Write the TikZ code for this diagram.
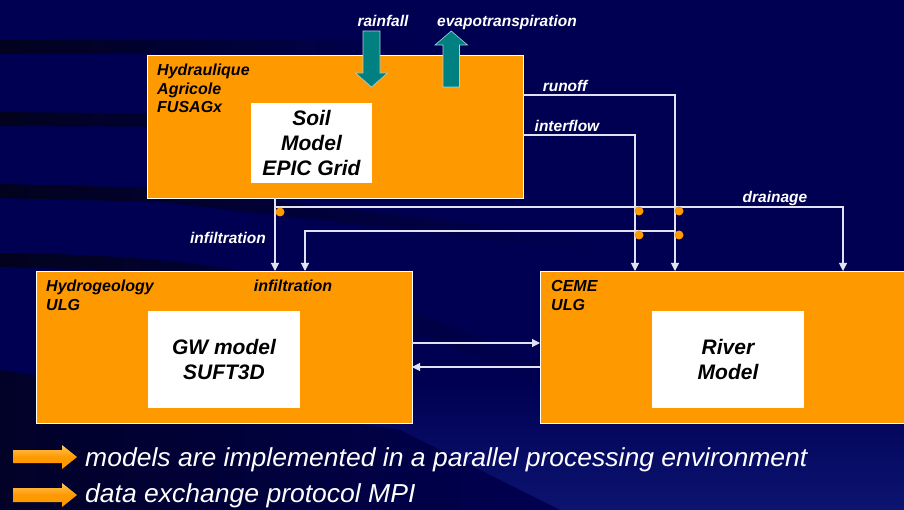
\documentclass[tikz,border=0pt]{standalone}
\usepackage{fontspec}
\setmainfont{Liberation Sans}
\usetikzlibrary{arrows.meta}

\definecolor{bgnavy}{RGB}{0,0,82}
\definecolor{bglight}{RGB}{12,20,112}
\definecolor{band}{RGB}{2,2,30}
\definecolor{boxorange}{RGB}{255,153,0}
\definecolor{orangelight}{RGB}{255,196,90}
\definecolor{flowteal}{RGB}{0,128,128}
\definecolor{linecol}{RGB}{225,225,242}

\tikzset{
  unitbox/.style={draw=white, line width=0.8pt, fill=boxorange, inner sep=0pt, outer sep=0pt},
  modelbox/.style={fill=white, inner sep=0pt, outer sep=0pt, align=center,
    font=\fontsize{21}{25}\selectfont\bfseries\itshape, text=black},
  hdr/.style={font=\fontsize{16}{18}\selectfont\bfseries\itshape, text=black, anchor=base west, inner sep=0pt},
  lbl/.style={font=\fontsize{15.5}{18}\selectfont\bfseries\itshape, text=white, anchor=base, inner sep=0pt},
  flow/.style={draw=linecol, line width=1.1pt, -{Triangle[width=8pt,length=8pt]}},
  junction/.style={circle, fill=boxorange, inner sep=0pt, minimum size=9pt},
  bigarrow/.style={fill=flowteal, draw=white!65!flowteal, line width=0.6pt},
  notearrow/.style={top color=orangelight, bottom color=boxorange, middle color=boxorange},
  note/.style={font=\fontsize{26}{30}\selectfont\itshape, text=white, anchor=base west, inner sep=0pt},
}

\begin{document}
\begin{tikzpicture}[x=1pt, y=-1pt]
  \useasboundingbox (0,0) rectangle (904,510);

  % background with dark swooshes on the left
  \fill[bgnavy] (0,0) rectangle (904,510);
  \shade[top color=bgnavy, bottom color=bglight] (0,380) rectangle (904,510);
  \shade[left color=band, right color=bgnavy] (0,41) rectangle (420,54);
  \shade[left color=band, right color=bgnavy] (0,112) -- (420,116) -- (420,128) -- (0,126) -- cycle;
  \shade[left color=band, right color=bgnavy] (0,184) -- (160,188) -- (600,238) -- (600,252) -- (160,202) -- (0,198) -- cycle;
  \shade[left color=band, right color=bgnavy] (0,253) .. controls (200,255) and (350,275) .. (560,372)
        -- (560,392) .. controls (350,295) and (200,270) .. (0,267) -- cycle;
  \shade[left color=band!80!bgnavy, right color=bgnavy] (0,370) -- (400,430) -- (560,510) -- (0,510) -- cycle;

  % processing units
  \node[unitbox, minimum width=376pt, minimum height=143pt] (soil)  at (335,126.5) {};
  \node[unitbox, minimum width=376pt, minimum height=152pt] (hydro) at (224,347) {};
  \node[unitbox, minimum width=366pt, minimum height=152pt] (ceme)  at (723,347) {};

  % models inside the units
  \node[modelbox, minimum width=121pt, minimum height=80pt] (soilm)  at (311.5,143) {Soil\\Model\\EPIC Grid};
  \node[modelbox, minimum width=152pt, minimum height=97pt] (gwm)    at (224,359.5) {GW model\\SUFT3D};
  \node[modelbox, minimum width=152pt, minimum height=97pt] (riverm) at (728,359.5) {River\\Model};

  % unit headers
  \node[hdr] (h1a) at (157,76)  {Hydraulique};
  \node[hdr] (h1b) at (157,95)  {Agricole};
  \node[hdr] (h1c) at (157,113) {FUSAGx};
  \node[hdr] (h2a) at (46,292)  {Hydrogeology};
  \node[hdr] (h2b) at (46,311)  {ULG};
  \node[hdr] (h3a) at (551,292) {CEME};
  \node[hdr] (h3b) at (551,311) {ULG};
  \node[hdr, anchor=base] (h2c) at (293,292) {infiltration};

  % rainfall and evapotranspiration
  \draw[bigarrow] (363,31) -- (380,31) -- (380,73) -- (387.5,73) -- (371.5,87)
        -- (355.5,73) -- (363,73) -- cycle;
  \draw[bigarrow] (443,87) -- (459.5,87) -- (459.5,45) -- (467.5,45) -- (451.25,31)
        -- (435,45) -- (443,45) -- cycle;
  \node[lbl] (lrain) at (383,27) {rainfall};
  \node[lbl] (levap) at (507,27) {evapotranspiration};

  % routing coordinates
  \coordinate (xInfA) at (275,0);
  \coordinate (xInfB) at (305,0);
  \coordinate (xInter) at (635,0);
  \coordinate (xRun) at (675,0);
  \coordinate (xDrain) at (843,0);
  \coordinate (yRun) at (0,95);
  \coordinate (yInter) at (0,135);
  \coordinate (yDrain) at (0,207);
  \coordinate (yInfB) at (0,231);
  \coordinate (yEx1) at (0,343);
  \coordinate (yEx2) at (0,367);

  % exchanges between the units
  \draw[flow] (soil.south -| xInfA) -- (hydro.north -| xInfA);
  \draw[flow] (xInfA |- yDrain) -| (xDrain |- ceme.north);
  \draw[flow] (soil.east |- yRun) -| (xRun |- ceme.north);
  \draw[flow] (soil.east |- yInter) -| (xInter |- ceme.north);
  \draw[flow] (xRun |- yInfB) -| (xInfB |- hydro.north);
  \draw[flow] (hydro.east |- yEx1) -- (ceme.west |- yEx1);
  \draw[flow] (ceme.west |- yEx2) -- (hydro.east |- yEx2);

  % junction marks
  \node[junction] (j0) at (280,212) {};
  \node[junction] (j1) at (639,211) {};
  \node[junction] (j2) at (679,211) {};
  \node[junction] (j3) at (639,235) {};
  \node[junction] (j4) at (679,235) {};

  % flow labels
  \node[lbl] (lrun)   at (565,92)  {runoff};
  \node[lbl] (linter) at (567,132) {interflow};
  \node[lbl] (ldrain) at (775,203) {drainage};
  \node[lbl] (linf)   at (228,244) {infiltration};

  % notes
  \shade[notearrow] (13,450) -- (62,450) -- (62,445) -- (77,457) -- (62,469) -- (62,463) -- (13,463) -- cycle;
  \shade[notearrow] (13,488) -- (62,488) -- (62,483) -- (77,495) -- (62,507) -- (62,502) -- (13,502) -- cycle;
  \node[note] (n1) at (85,466) {\scalebox{1.02}[1]{models are implemented in a parallel processing environment}};
  \node[note] (n2) at (85,502) {\scalebox{1.02}[1]{data exchange protocol MPI}};
\end{tikzpicture}
\end{document}
